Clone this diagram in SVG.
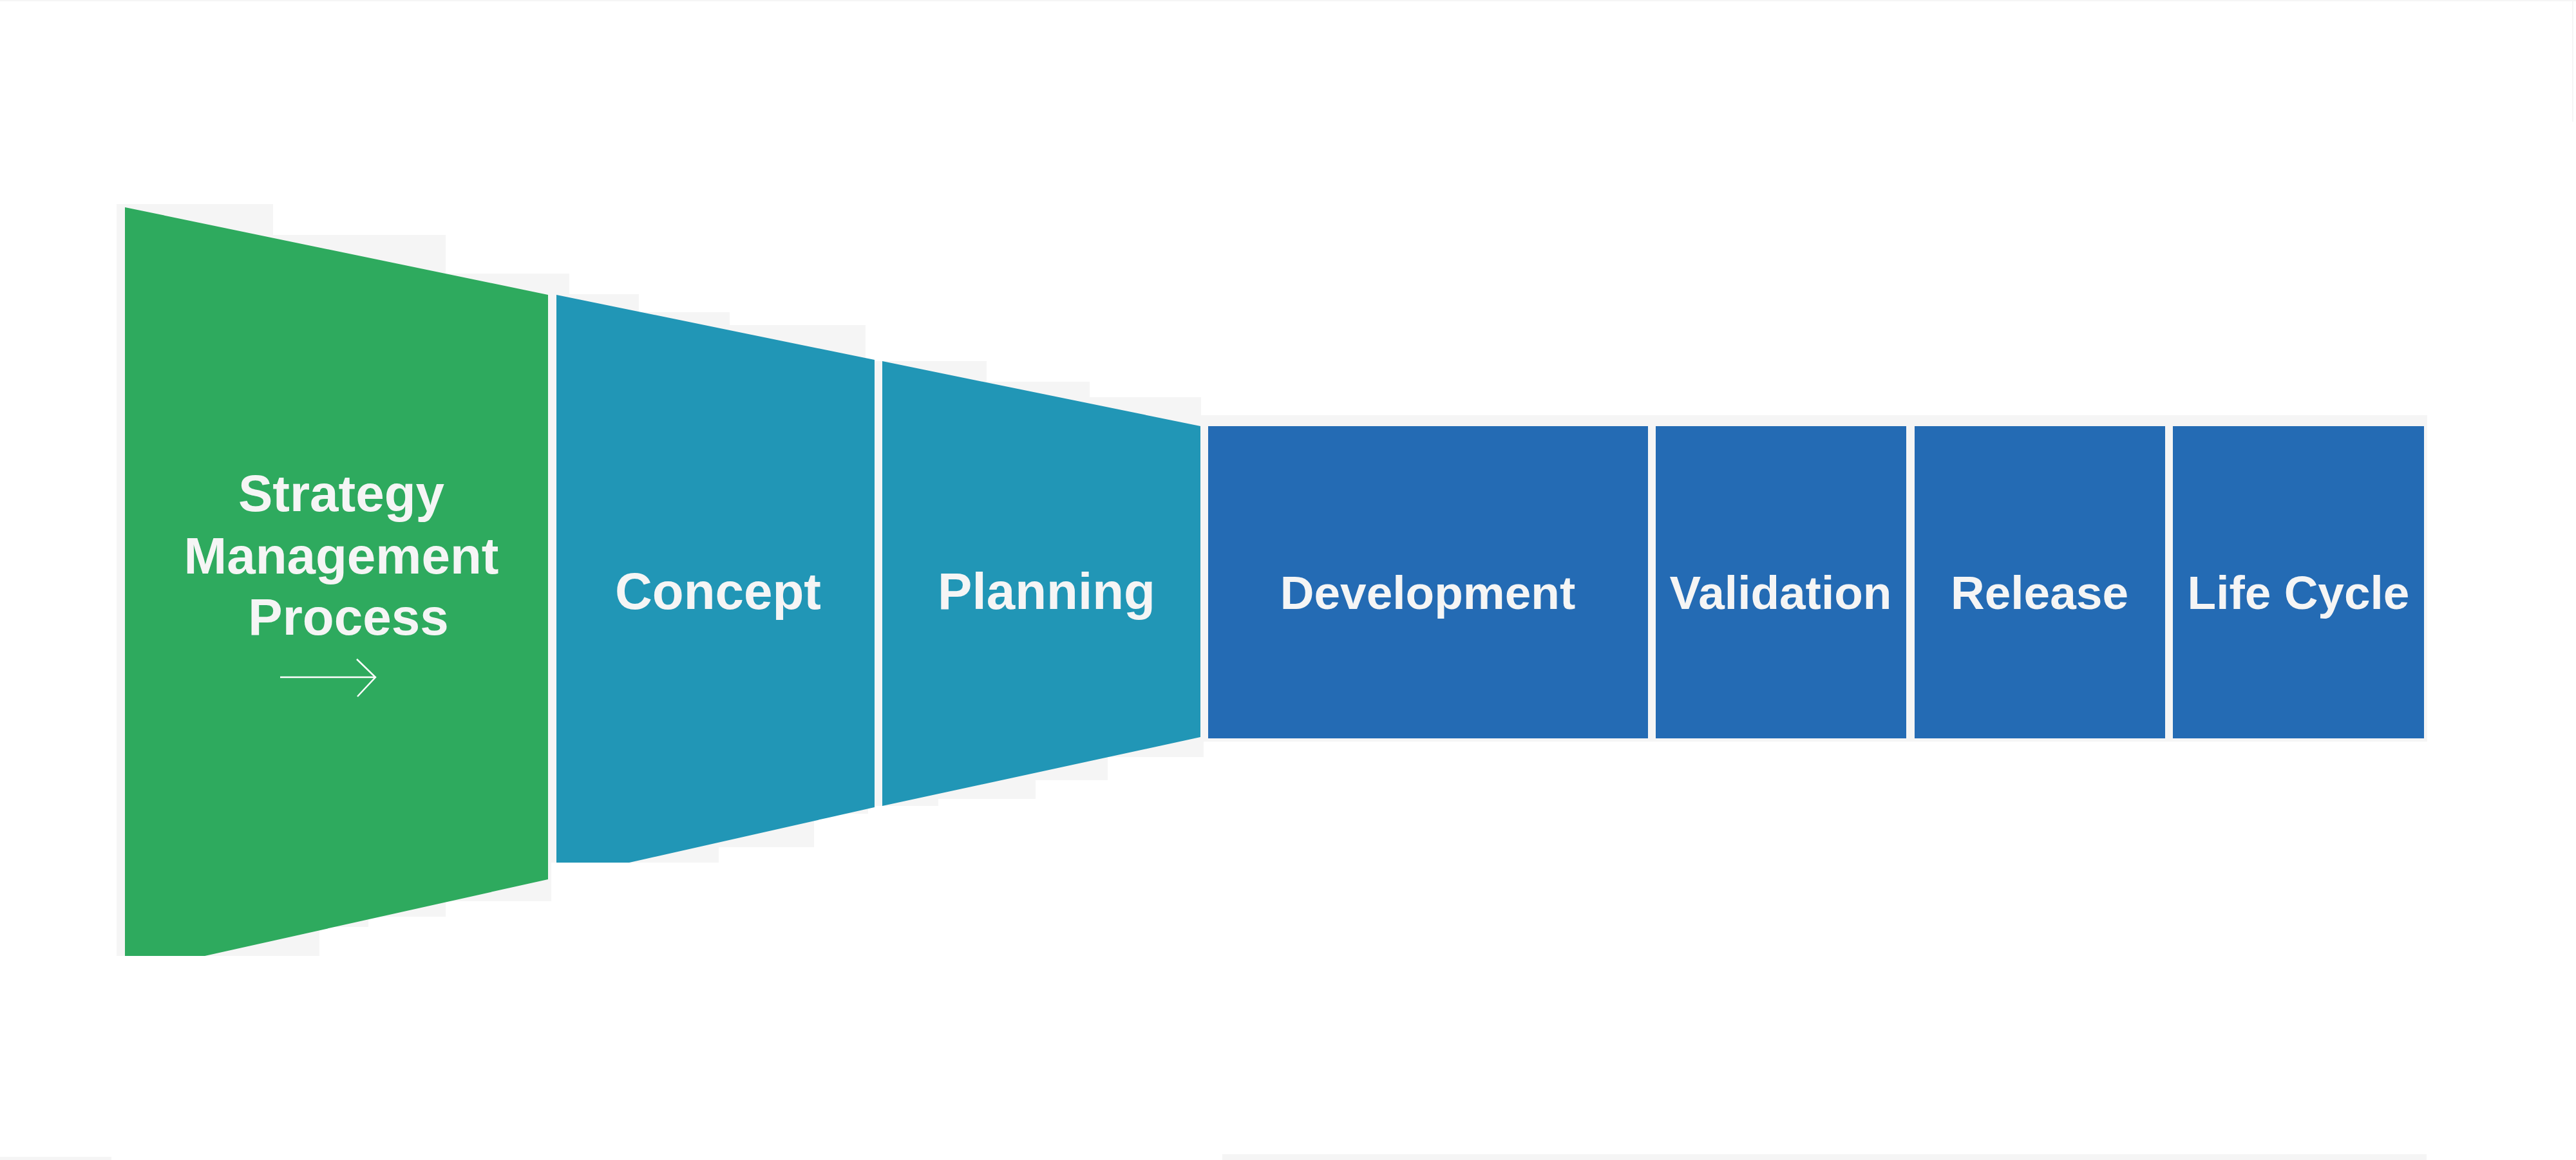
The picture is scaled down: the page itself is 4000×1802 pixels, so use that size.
<svg xmlns="http://www.w3.org/2000/svg" width="4000" height="1802" viewBox="0 0 4000 1802">
<style>
.bg{fill:#f5f5f5}
.lbl{font-family:"Liberation Sans",Arial,sans-serif;font-weight:bold;fill:#f5f5f5;text-anchor:middle}
.s72{font-size:73px}
.s80{font-size:80px}
.green{fill:#2eaa5e}
.teal{fill:#2196b6}
.blue{fill:#246bb4}
</style>
<rect x="0" y="0" width="4000" height="1802" fill="#ffffff"/>
<g id="backdrop">
<path class="bg" d="M181,317 H424 V365 H692 V425 H884 V457 H992 V485 H1133 V505 H1344 V561 H1532 V593 H1692 V617 H1865 V645 H3769 V1152 H1869 V1176 H1720 V1212 H1608 V1241 H1457 V1252 H1348 V1264 H1264 V1316 H1116 V1340 H856 V1400 H692 V1424 H572 V1440 H496 V1485 H181 Z"/>
<rect class="bg" x="1898" y="1793" width="1870" height="9"/>
<rect class="bg" x="0" y="1797" width="173" height="5"/>
<rect class="bg" x="0" y="0" width="4000" height="2"/>
<rect class="bg" x="3994" y="0" width="2" height="189"/>
</g>
<g id="node-strategy">
<polygon class="green" points="194,322 851,458 851,1366 318,1485 194,1485"/>
<text class="lbl s80" x="530" y="794">Strategy</text>
<text class="lbl s80" x="530" y="891">Management</text>
<text class="lbl s80" x="541" y="986">Process</text>
<g fill="none" stroke="#ffffff" stroke-width="2.5">
<line x1="435" y1="1052" x2="583" y2="1052"/>
<polyline points="554,1024 583,1052 555,1082"/>
</g>
</g>
<g id="node-concept">
<polygon class="teal" points="864,458 1358,559 1358,1254 977,1340 864,1340"/>
<text class="lbl s80" x="1115" y="946">Concept</text>
</g>
<g id="node-planning">
<polygon class="teal" points="1370,561 1864,662 1864,1145 1370,1252"/>
<text class="lbl s80" x="1625" y="946">Planning</text>
</g>
<g id="node-development">
<rect class="blue" x="1876" y="662" width="683" height="485"/>
<text class="lbl s72" x="2217" y="946">Development</text>
</g>
<g id="node-validation">
<rect class="blue" x="2571" y="662" width="389" height="485"/>
<text class="lbl s72" x="2765" y="946">Validation</text>
</g>
<g id="node-release">
<rect class="blue" x="2973" y="662" width="389" height="485"/>
<text class="lbl s72" x="3167" y="946">Release</text>
</g>
<g id="node-lifecycle">
<rect class="blue" x="3374" y="662" width="390" height="485"/>
<text class="lbl s72" x="3569" y="946">Life Cycle</text>
</g>
<g id="connectors"></g>
</svg>
